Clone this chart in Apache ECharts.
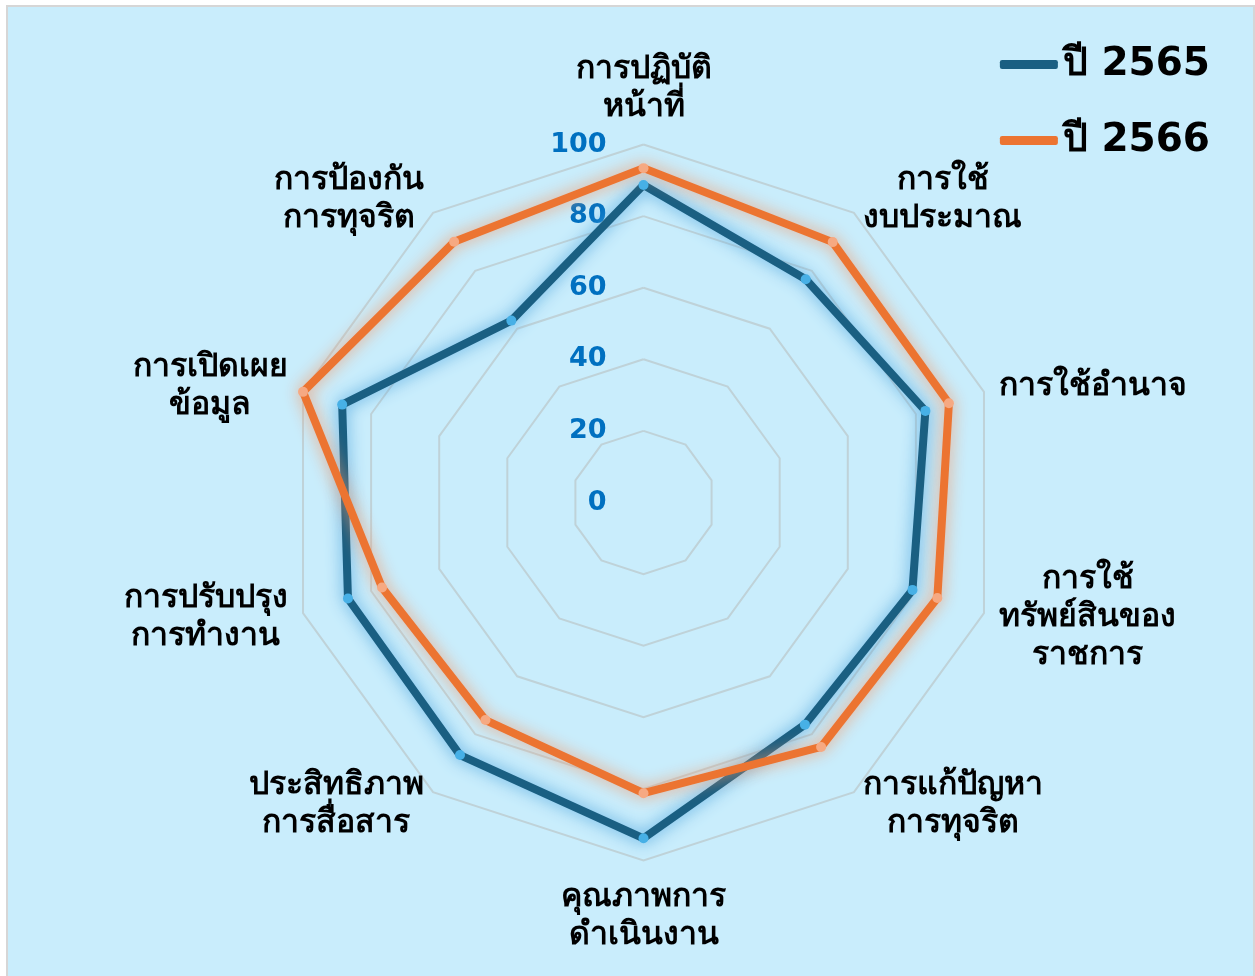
<!DOCTYPE html>
<html>
<head>
<meta charset="utf-8">
<script src="https://cdn.jsdelivr.net/npm/echarts@6/dist/echarts.min.js"></script>
<style>
    body { margin: 0; background: #fff; }
    #box {
        position: absolute; left: 6px; top: 5px; width: 1245px; height: 980px;
        border: 2px solid #d6d6d6; background: #c9edfc;
    }
    #main { position: absolute; left: 0; top: 0; width: 1255px; height: 976px; }
</style>
</head>
<body>
<div id="box"></div>
<div id="main"></div>
<script>
// หัวข้อการประเมิน (เรียงตามเข็มนาฬิกาจากด้านบน)
const categories = [
    'การปฏิบัติ\nหน้าที่',
    'การใช้\nงบประมาณ',
    'การใช้อำนาจ',
    'การใช้\nทรัพย์สินของ\nราชการ',
    'การแก้ปัญหา\nการทุจริต',
    'คุณภาพการ\nดำเนินงาน',
    'ประสิทธิภาพ\nการสื่อสาร',
    'การปรับปรุง\nการทำงาน',
    'การเปิดเผย\nข้อมูล',
    'การป้องกัน\nการทุจริต'
]
const seriesNames = ['ปี 2565', 'ปี 2566']
const score2565 = [88.7, 77.1, 82.8, 79.0, 76.7, 93.8, 87.2, 86.8, 88.5, 62.8]
const score2566 = [93.4, 89.9, 89.7, 86.3, 84.4, 81.2, 75.1, 76.8, 100, 90.0]
const axisMax = 100

const FONT = 'Tahoma, "DejaVu Sans", sans-serif'

// echarts วาดแกนทวนเข็มนาฬิกา จึงต้องกลับลำดับ (คงตัวแรกไว้ด้านบน)
const ccw = arr => [arr[0]].concat(arr.slice(1).reverse())

const cats = ccw(categories)
// หัวข้อด้านบน/ล่าง ใช้ radar ตัวแรก ที่เหลือใช้ radar ตัวที่สอง (จัดกึ่งกลางแนวตั้ง)
const isTopBottom = name => name === categories[0] || name === categories[5]

const centerXY = [643.5, 502.5]
const radius = 358

const nameStyle = {
    color: '#000',
    fontFamily: FONT,
    fontSize: 32,
    fontWeight: 900,
    lineHeight: 38
}
const wrapName = name => name.split('\n').map(s => '{c|' + s + '}').join('\n')

const option = {
    animation: false,
    legend: {
        orient: 'vertical',
        right: 40,
        top: 40,
        itemWidth: 58,
        itemHeight: 9,
        itemGap: 37,
        icon: 'roundRect',
        textStyle: { color: '#000', fontFamily: FONT, fontSize: 39, fontWeight: 'bold' },
        data: [
            { name: seriesNames[0], itemStyle: { color: '#1a5f82' } },
            { name: seriesNames[1], itemStyle: { color: '#ec7431' } }
        ]
    },
    radar: [
        {
            center: centerXY,
            radius: radius,
            startAngle: 90,
            splitNumber: 5,
            shape: 'polygon',
            nameGap: 18,
            axisName: Object.assign({ formatter: wrapName, rich: { c: Object.assign({ align: 'center' }, nameStyle) } }, nameStyle),
            indicator: cats.map((c, i) => {
                const ind = { name: isTopBottom(c) ? c : '', min: 0, max: axisMax }
                if (i === 0) {
                    ind.axisLabel = {
                        show: true,
                        color: '#0070c0',
                        fontFamily: FONT,
                        fontSize: 27,
                        fontWeight: 'bold',
                        margin: 37
                    }
                }
                return ind
            }),
            splitLine: { lineStyle: { color: '#bfd2d8', width: 2 } },
            splitArea: { show: false },
            axisLine: { show: false },
            axisTick: { show: false },
            axisLabel: { show: false }
        },
        {
            center: centerXY,
            radius: radius,
            startAngle: 90,
            splitNumber: 5,
            shape: 'polygon',
            nameGap: 16,
            axisName: Object.assign({ verticalAlign: 'middle', formatter: wrapName, rich: { c: Object.assign({ align: 'center' }, nameStyle) } }, nameStyle),
            indicator: cats.map(c => ({ name: isTopBottom(c) ? '' : c, min: 0, max: axisMax })),
            splitLine: { show: false },
            splitArea: { show: false },
            axisLine: { show: false },
            axisTick: { show: false },
            axisLabel: { show: false }
        }
    ],
    series: [
        {
            name: seriesNames[0],
            type: 'radar',
            radarIndex: 0,
            symbol: 'circle',
            symbolSize: 10,
            lineStyle: { color: '#1a5f82', width: 8, shadowBlur: 16, shadowColor: 'rgba(70,160,220,0.9)' },
            itemStyle: { color: '#47b0e6' },
            data: [{ name: seriesNames[0], value: ccw(score2565) }]
        },
        {
            name: seriesNames[1],
            type: 'radar',
            radarIndex: 0,
            symbol: 'circle',
            symbolSize: 10,
            lineStyle: { color: '#ec7431', width: 8, shadowBlur: 16, shadowColor: 'rgba(245,150,100,0.9)' },
            itemStyle: { color: '#f6a982' },
            data: [{ name: seriesNames[1], value: ccw(score2566) }]
        }
    ]
}

let myChart = echarts.init(document.getElementById('main'))
myChart.setOption(option, true)
</script>
</body>
</html>
